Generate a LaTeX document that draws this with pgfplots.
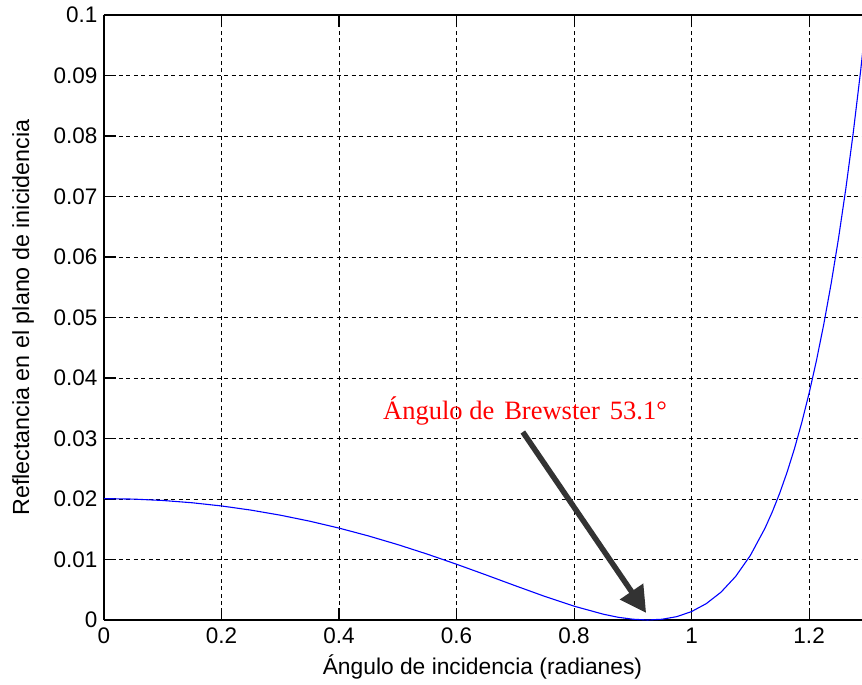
\documentclass[border=0pt]{standalone}
\usepackage{fontspec}
\setmainfont{Liberation Sans}
\newfontfamily\timesfont{Liberation Serif}
\usepackage{pgfplots}
\pgfplotsset{compat=1.18}
\usetikzlibrary{arrows.meta}

\begin{document}
\begin{tikzpicture}
\begin{axis}[
  name=ax,
  scale only axis,
  width=758bp, height=605bp,
  xmin=0, xmax=1.29, ymin=0, ymax=0.1,
  axis x line*=box, axis y line*=left,
  xtick={0,0.2,0.4,0.6,0.8,1,1.2},
  xticklabels={0,0.2,0.4,0.6,0.8,1,1.2},
  ytick={0,0.01,0.02,0.03,0.04,0.05,0.06,0.07,0.08,0.09,0.1},
  yticklabels={0,0.01,0.02,0.03,0.04,0.05,0.06,0.07,0.08,0.09,0.1},
  tick align=inside,
  major tick length=12bp,
  grid=major,
  major grid style={black, line width=0.9bp, dash pattern=on 4bp off 3.5bp},
  axis line style={black, line width=1.1bp},
  tick style={black, line width=1.1bp},
  ticklabel style={font=\fontsize{22.5bp}{26bp}\selectfont},
  xticklabel style={yshift=-4bp},
  yticklabel style={xshift=-3bp},
  every axis x label/.style={at={(axis description cs:0.4993,-0.0909)}, anchor=base, font=\fontsize{22.8bp}{26bp}\selectfont},
  every axis y label/.style={at={(axis description cs:-0.10686,0.5)}, anchor=center, rotate=90, font=\fontsize{23.3bp}{26bp}\selectfont},
  xlabel={Ángulo de incidencia (radianes)},
  ylabel={Reflectancia en el plano de inicidencia},
]
\addplot[color={rgb,255:red,0;green,0;blue,255}, line width=1.1bp] coordinates {
(0,0.020059)(0.05,0.019984)(0.1,0.019757)(0.15,0.019379)(0.2,0.018849)
(0.25,0.018165)(0.3,0.017327)(0.35,0.016336)(0.4,0.015191)(0.45,0.013897)
(0.5,0.012461)(0.55,0.010894)(0.6,0.009215)(0.65,0.007456)(0.7,0.005662)
(0.75,0.003904)(0.8,0.002285)(0.85,0.000954)(0.875,0.00045)(0.9,0.000129)
(0.925,0.000001)(0.95,0.000126)(0.975,0.00056)(1.0,0.001397)(1.025,0.002706)
(1.05,0.004598)(1.075,0.007203)(1.1,0.010672)(1.125,0.015191)(1.1375,0.017911)
(1.15,0.020980)(1.1625,0.024432)(1.175,0.028306)(1.1875,0.032644)(1.2,0.037490)
(1.2125,0.042897)(1.225,0.048918)(1.2375,0.055618)(1.25,0.063060)(1.2625,0.071319)
(1.275,0.080474)(1.2875,0.090621)(1.3,0.101850)
};
\node[text=red, font=\timesfont\fontsize{26.5bp}{30bp}\selectfont, anchor=base]
  at (axis cs:0.7166,0.03306) {Ángulo de\hspace{10bp}Brewster\hspace{10bp}53.1°};
\draw[line width=5.5bp, color=black!80, -{Triangle[length=26bp,width=27bp]}]
  (axis cs:0.7128,0.03107) -- (axis cs:0.9226,0.00116);
\end{axis}
\pgfresetboundingbox
\path ([xshift=-104bp,yshift=-65bp]ax.south west) rectangle ([yshift=15bp]ax.north east);
\end{tikzpicture}
\end{document}
